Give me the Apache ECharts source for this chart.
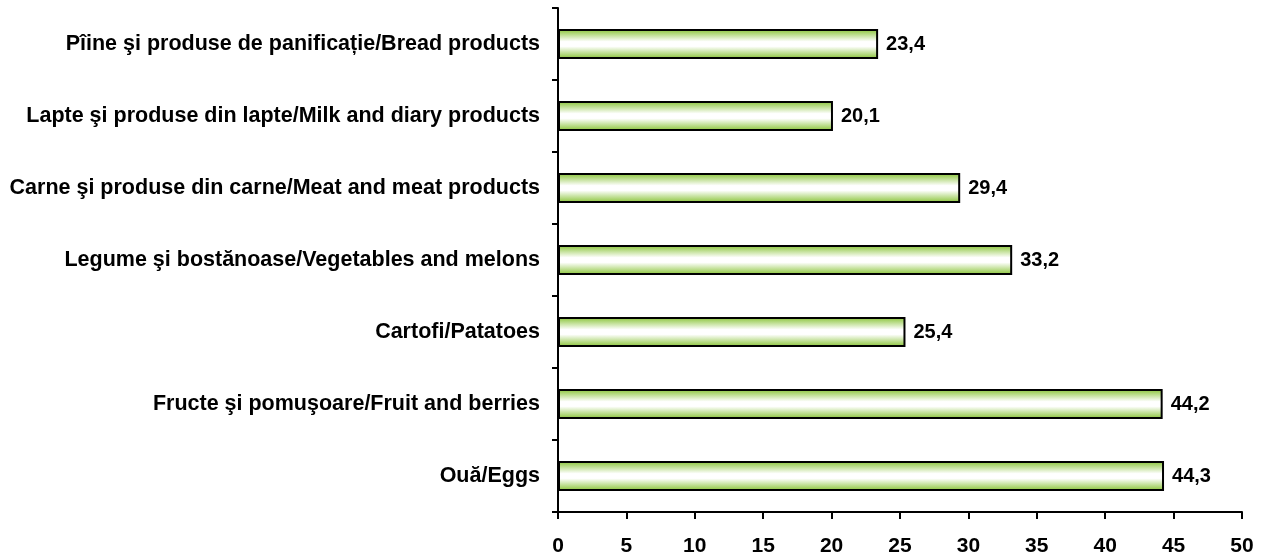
<!DOCTYPE html>
<html>
<head>
<meta charset="utf-8">
<script src="https://cdn.jsdelivr.net/npm/echarts@6/dist/echarts.min.js"></script>
<style>
  html, body { margin: 0; padding: 0; background: #fff; }
  #chart { width: 1262px; height: 557px; }
</style>
</head>
<body>
<div id="chart"></div>
<script>
// categories, top to bottom
const categories = [
  'Pîine şi produse de panificație/Bread products',
  'Lapte şi produse din lapte/Milk and diary products',
  'Carne şi produse din carne/Meat and meat products',
  'Legume şi bostănoase/Vegetables and melons',
  'Cartofi/Patatoes',
  'Fructe şi pomuşoare/Fruit and berries',
  'Ouă/Eggs'
]
const values = [23.4, 20.1, 29.4, 33.2, 25.4, 44.2, 44.3]
const xTicks = [0, 5, 10, 15, 20, 25, 30, 35, 40, 45, 50]

const chart = echarts.init(document.getElementById('chart'))
const font = 'Liberation Sans, Arial, sans-serif'

chart.setOption({
  animation: false,
  textStyle: { fontFamily: font },
  grid: { left: 558, right: 20, top: 8, bottom: 43 },
  xAxis: {
    type: 'value',
    min: xTicks[0],
    max: xTicks[xTicks.length - 1],
    interval: 5,
    splitLine: { show: false },
    axisLine: { show: true, lineStyle: { color: '#000', width: 2 } },
    axisTick: { show: true, length: 7, lineStyle: { color: '#000', width: 2 } },
    axisLabel: { color: '#000', fontWeight: 'bold', fontSize: 21, margin: 24 }
  },
  yAxis: {
    type: 'category',
    data: categories,
    inverse: true,
    axisLine: { show: true, lineStyle: { color: '#000', width: 2 } },
    axisTick: { show: true, length: 6, lineStyle: { color: '#000', width: 2 } },
    axisLabel: { color: '#000', fontWeight: 'bold', fontSize: 21.5, margin: 18 }
  },
  series: [{
    type: 'bar',
    data: values,
    barWidth: 30,
    itemStyle: {
      borderColor: '#000',
      borderWidth: 2,
      color: new echarts.graphic.LinearGradient(0, 0, 0, 1, [
        { offset: 0, color: '#86c232' },
        { offset: 0.42, color: '#ffffff' },
        { offset: 0.58, color: '#ffffff' },
        { offset: 1, color: '#86c232' }
      ])
    },
    label: {
      show: true,
      position: 'right',
      distance: 8,
      color: '#000',
      fontWeight: 'bold',
      fontSize: 20,
      formatter: (p) => p.value.toFixed(1).replace('.', ',')
    }
  }]
})
</script>
</body>
</html>
